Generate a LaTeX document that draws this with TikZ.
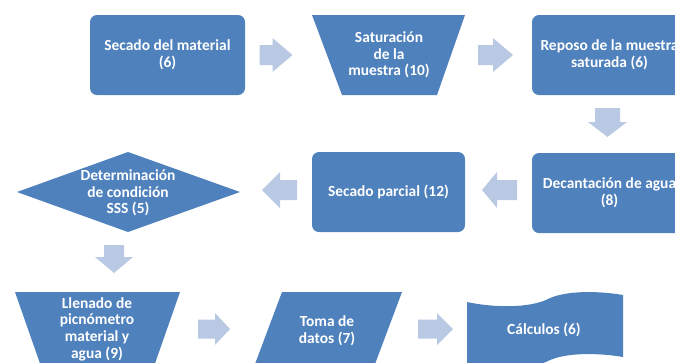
\documentclass[tikz,border=0pt]{standalone}
\usepackage{fontspec}
\setmainfont{Carlito}
\definecolor{boxblue}{HTML}{4F81BD}
\definecolor{arrblue}{HTML}{B9C9E3}
\begin{document}
\begin{tikzpicture}[x=1bp,y=-1bp,
  box/.style={fill=boxblue},
  rbox/.style={box, rounded corners=7bp, minimum width=155bp, minimum height=80bp, inner sep=0pt},
  txt/.style={text=white, font=\bfseries\fontsize{15.5}{16.8}\selectfont, align=center, inner sep=0pt},
  pics/barrow/.style n args={4}{code={
    \fill[arrblue] ({-#1/2},{-#4/2}) -- ({#1/2-#2},{-#4/2}) -- ({#1/2-#2},{-#3/2})
      -- ({#1/2},0) -- ({#1/2-#2},{#3/2}) -- ({#1/2-#2},{#4/2}) -- ({-#1/2},{#4/2}) -- cycle;
  }}]
\useasboundingbox (0,0) rectangle (675,362);
\clip (0,0) rectangle (675,362);
% row 1
\node[rbox, txt] (secado) at (167.5,55) {Secado del material\\(6)};
\fill[box] (312,15) -- (465,15) -- (437,95) -- (342,95) -- cycle;
\node[txt] (satur) at (389,55) {Saturación\\de la\\muestra (10)};
\node[rbox, txt] (reposo) at (609.5,55) {Reposo de la muestra\\saturada (6)};
% row 2
\node[rbox, txt] (decant) at (609.5,193) {Decantación de agua\\(8)};
\node[rbox, txt, minimum width=153bp] (parcial) at (388.5,192) {Secado parcial (12)};
\fill[box] (17,192) -- (128,152) -- (240,192) -- (128,232) -- cycle;
\node[txt] (sss) at (128,193) {Determinación\\de condición\\SSS (5)};
% row 3
\fill[box] (15,292) -- (180,292) -- (152,372) -- (43,372) -- cycle;
\node[txt] (llenado) at (97,329) {Llenado de\\picnómetro\\material y\\agua (9)};
\fill[box] (282,292) -- (402,292) -- (372,372) -- (252,372) -- cycle;
\node[txt] (toma) at (327,331) {Toma de\\datos (7)};
\fill[box] (467,302) .. controls (495,308) and (530,308) .. (548,299)
  .. controls (566,290) and (600,291) .. (623,295) -- (623,357)
  .. controls (600,353) and (566,352) .. (548,361)
  .. controls (530,370) and (495,370) .. (467,364) -- cycle;
\node[txt] (calc) at (544,330) {Cálculos (6)};
% block arrows
\pic (a1) at (276,55) {barrow={33}{20}{34}{20}};
\pic (a2) at (495.5,55) {barrow={35}{20}{34}{20}};
\pic[rotate=-90] (a3) at (607.5,122.5) {barrow={29}{15}{39}{25}};
\pic[rotate=180] (a4) at (499.5,190) {barrow={35}{15}{36}{20}};
\pic[rotate=180] (a5) at (279.5,190) {barrow={35}{18}{36}{20}};
\pic[rotate=-90] (a6) at (114,259) {barrow={28}{16}{38}{20}};
\pic (a7) at (214,329) {barrow={32}{15}{32}{19}};
\pic (a8) at (435.5,329) {barrow={35}{16}{32}{19}};
\end{tikzpicture}
\end{document}
